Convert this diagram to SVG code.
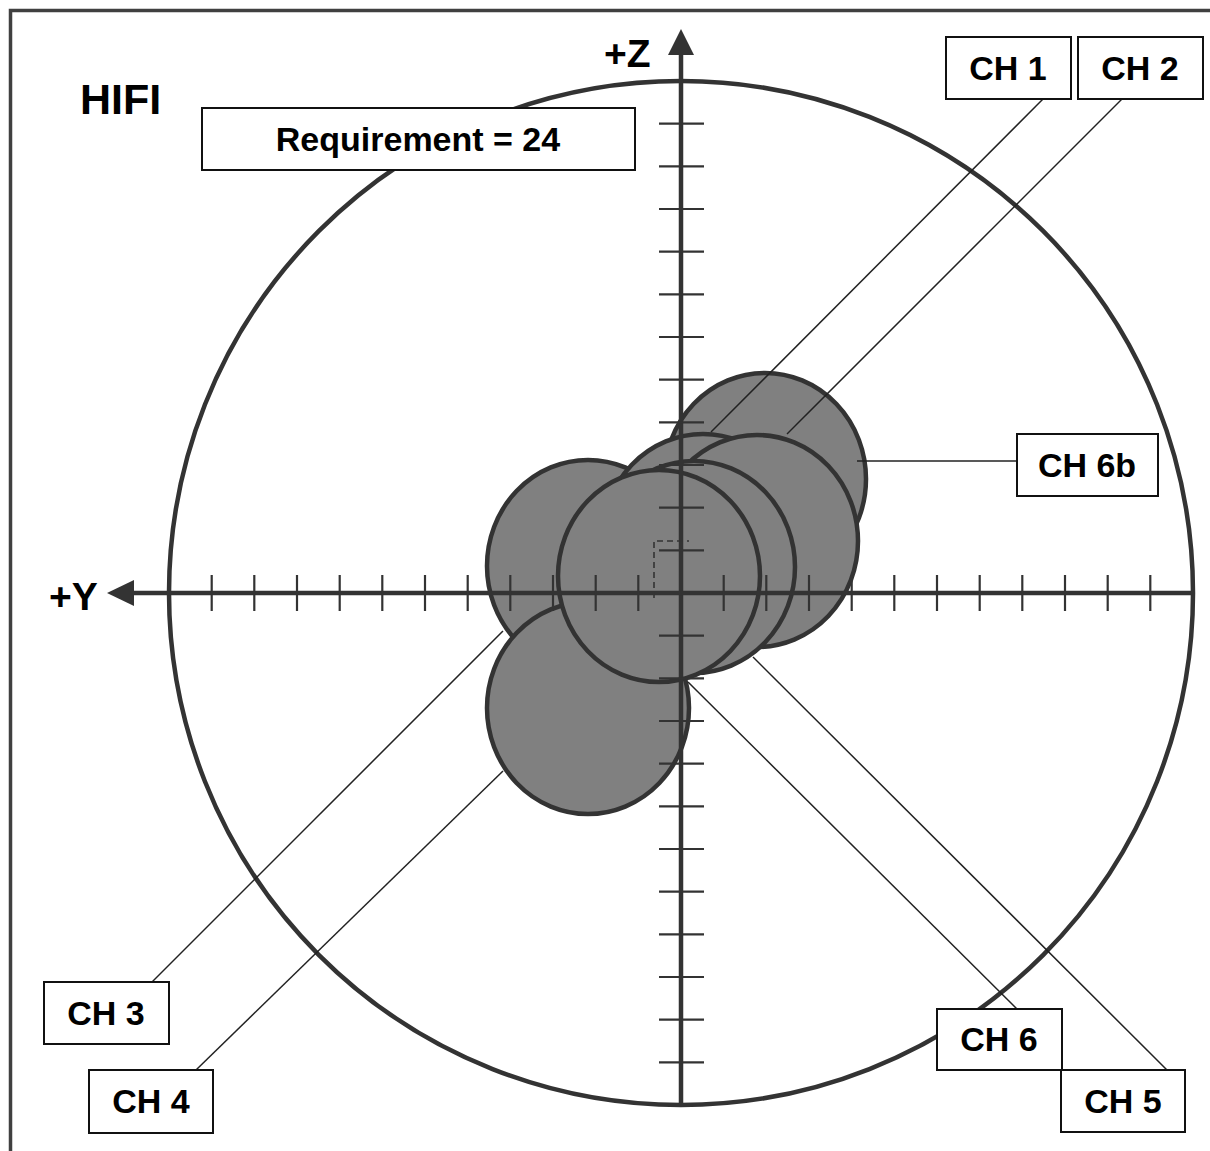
<svg xmlns="http://www.w3.org/2000/svg" width="1210" height="1151" viewBox="0 0 1210 1151">
<style>
.frame{fill:none;stroke:#404040;stroke-width:3.5}
.big{fill:none;stroke:#333;stroke-width:4.5}
.blob{fill:#808080;stroke:#333;stroke-width:4.5}
.axis{stroke:#333;stroke-width:4.5;fill:none}
.tick{stroke:#333;stroke-width:2.2}
.dash{stroke:#333;stroke-width:1.6;fill:none;stroke-dasharray:6 4}
.lead{stroke:#222;stroke-width:1.5;fill:none}
.box{fill:#fff;stroke:#111;stroke-width:2}
.lbl{font-family:"Liberation Sans",Arial,sans-serif;font-weight:bold;font-size:34px;fill:#000;text-anchor:middle}
.ax{font-family:"Liberation Sans",Arial,sans-serif;font-weight:bold;font-size:39px;fill:#000}
</style>
<rect class="frame" x="10.5" y="10.5" width="1300" height="1300"/>
<g id="range-circle"><circle class="big" cx="681" cy="593" r="512"/></g>
<g id="ellipses">
<ellipse id="e-ch3" class="blob" cx="588" cy="566" rx="101" ry="106"/>
<ellipse id="e-ch6b" class="blob" cx="765" cy="479" rx="101" ry="106"/>
<ellipse id="e-ch1" class="blob" cx="703" cy="540" rx="101" ry="106"/>
<ellipse id="e-ch2" class="blob" cx="757" cy="541" rx="101" ry="106"/>
<ellipse id="e-ch5" class="blob" cx="694" cy="567" rx="101" ry="106"/>
<ellipse id="e-ch4" class="blob" cx="588" cy="708" rx="101" ry="106"/>
<ellipse id="e-ch6" class="blob" cx="659" cy="576" rx="101" ry="106"/>
</g>
<g id="axes">
<line class="axis" x1="681" y1="1104" x2="681" y2="52"/>
<polygon points="681,29 668,55 694,55" fill="#333"/>
<line class="axis" x1="1193" y1="593" x2="130" y2="593"/>
<polygon points="107,593 134,580 134,606" fill="#333"/>
<g class="tick">
<line x1="211.7" y1="575" x2="211.7" y2="611"/>
<line x1="254.3" y1="575" x2="254.3" y2="611"/>
<line x1="297" y1="575" x2="297" y2="611"/>
<line x1="339.7" y1="575" x2="339.7" y2="611"/>
<line x1="382.3" y1="575" x2="382.3" y2="611"/>
<line x1="425" y1="575" x2="425" y2="611"/>
<line x1="467.7" y1="575" x2="467.7" y2="611"/>
<line x1="510.3" y1="575" x2="510.3" y2="611"/>
<line x1="553" y1="575" x2="553" y2="611"/>
<line x1="595.7" y1="575" x2="595.7" y2="611"/>
<line x1="638.3" y1="575" x2="638.3" y2="611"/>
<line x1="723.7" y1="575" x2="723.7" y2="611"/>
<line x1="766.3" y1="575" x2="766.3" y2="611"/>
<line x1="809" y1="575" x2="809" y2="611"/>
<line x1="851.7" y1="575" x2="851.7" y2="611"/>
<line x1="894.3" y1="575" x2="894.3" y2="611"/>
<line x1="937" y1="575" x2="937" y2="611"/>
<line x1="979.7" y1="575" x2="979.7" y2="611"/>
<line x1="1022.3" y1="575" x2="1022.3" y2="611"/>
<line x1="1065" y1="575" x2="1065" y2="611"/>
<line x1="1107.7" y1="575" x2="1107.7" y2="611"/>
<line x1="1150.3" y1="575" x2="1150.3" y2="611"/>
<line x1="659" y1="123.7" x2="704" y2="123.7"/>
<line x1="659" y1="166.3" x2="704" y2="166.3"/>
<line x1="659" y1="209" x2="704" y2="209"/>
<line x1="659" y1="251.7" x2="704" y2="251.7"/>
<line x1="659" y1="294.3" x2="704" y2="294.3"/>
<line x1="659" y1="337" x2="704" y2="337"/>
<line x1="659" y1="379.7" x2="704" y2="379.7"/>
<line x1="659" y1="422.3" x2="704" y2="422.3"/>
<line x1="659" y1="465" x2="704" y2="465"/>
<line x1="659" y1="507.7" x2="704" y2="507.7"/>
<line x1="659" y1="550.3" x2="704" y2="550.3"/>
<line x1="659" y1="635.7" x2="704" y2="635.7"/>
<line x1="659" y1="678.3" x2="704" y2="678.3"/>
<line x1="659" y1="721" x2="704" y2="721"/>
<line x1="659" y1="763.7" x2="704" y2="763.7"/>
<line x1="659" y1="806.3" x2="704" y2="806.3"/>
<line x1="659" y1="849" x2="704" y2="849"/>
<line x1="659" y1="891.7" x2="704" y2="891.7"/>
<line x1="659" y1="934.3" x2="704" y2="934.3"/>
<line x1="659" y1="977" x2="704" y2="977"/>
<line x1="659" y1="1019.7" x2="704" y2="1019.7"/>
<line x1="659" y1="1062.3" x2="704" y2="1062.3"/>
</g>
<path class="dash" d="M654,598 V541 H689"/>
<text class="ax" x="604" y="67">+Z</text>
<text class="ax" x="49" y="610">+Y</text>
</g>
<g id="connectors">
<line class="lead" x1="1043" y1="99" x2="711" y2="432"/>
<line class="lead" x1="1122" y1="99" x2="787" y2="434"/>
<line class="lead" x1="857" y1="461" x2="1017" y2="461"/>
<line class="lead" x1="152" y1="982" x2="503" y2="631"/>
<line class="lead" x1="196" y1="1070" x2="503" y2="771"/>
<line class="lead" x1="688" y1="682" x2="1017" y2="1009"/>
<line class="lead" x1="753" y1="657" x2="1167" y2="1070"/>
</g>
<g id="title"><text x="80" y="114" font-family="Liberation Sans, Arial, sans-serif" font-weight="bold" font-size="43">HIFI</text></g>
<g id="requirement"><rect class="box" x="202" y="108" width="433" height="62"/><text class="lbl" x="418" y="151">Requirement = 24</text></g>
<g id="ch1"><rect class="box" x="946" y="37" width="125" height="62"/><text class="lbl" x="1008" y="80">CH 1</text></g>
<g id="ch2"><rect class="box" x="1078" y="37" width="125" height="62"/><text class="lbl" x="1140" y="80">CH 2</text></g>
<g id="ch6b"><rect class="box" x="1017" y="434" width="141" height="62"/><text class="lbl" x="1087" y="477">CH 6b</text></g>
<g id="ch3"><rect class="box" x="44" y="982" width="125" height="62"/><text class="lbl" x="106" y="1025">CH 3</text></g>
<g id="ch4"><rect class="box" x="89" y="1070" width="124" height="63"/><text class="lbl" x="151" y="1113">CH 4</text></g>
<g id="ch6"><rect class="box" x="937" y="1009" width="125" height="61"/><text class="lbl" x="999" y="1051">CH 6</text></g>
<g id="ch5"><rect class="box" x="1061" y="1070" width="124" height="62"/><text class="lbl" x="1123" y="1113">CH 5</text></g>
</svg>
